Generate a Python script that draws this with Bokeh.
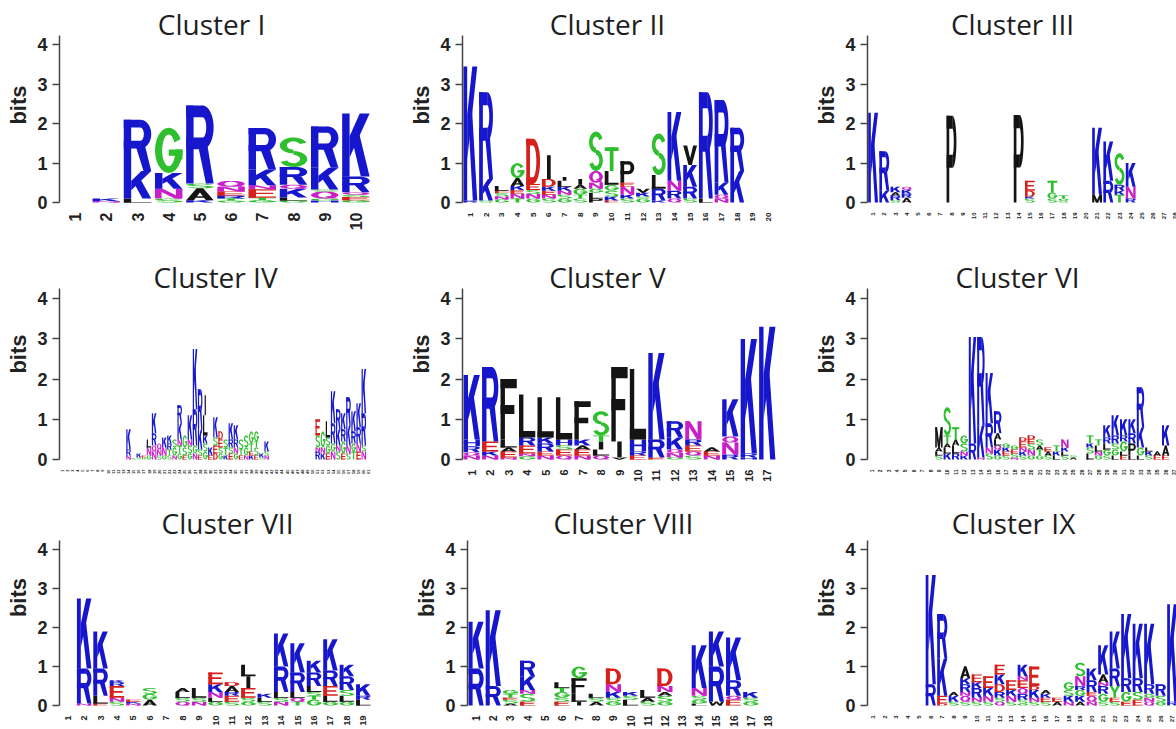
import math
from bokeh.plotting import figure
from bokeh.layouts import column, row
from bokeh.models import FixedTicker, Range1d, ColumnDataSource
from bokeh.core.properties import value
from bokeh.embed import file_html
from bokeh.resources import INLINE

# ---------------- data (stacks listed bottom -> top, letter + height in bits) ----------------
TITLES = ["Cluster I", "Cluster II", "Cluster III", "Cluster IV", "Cluster V",
          "Cluster VI", "Cluster VII", "Cluster VIII", "Cluster IX"]
Y_TICKS = [0, 1, 2, 3, 4]

CLUSTER_I = ["", "N0.03 K0.07", "L0.1 K0.7 R1.3", "S0.1 N0.25 K0.4 G1.15",
             "K0.06 A0.3 S0.12 R1.98", "G0.05 T0.05 R0.08 E0.1 N0.12 Q0.15",
             "G0.06 T0.06 E0.22 N0.1 K0.4 R1.05", "G0.05 L0.08 K0.22 Q0.1 R0.45 S0.75",
             "H0.05 G0.05 Q0.18 S0.05 K0.55 R1.05", "G0.06 E0.08 S0.06 Q0.06 R0.4 K1.6"]

CLUSTER_II = ["R0.05 K3.4", "S0.05 K0.55 R2.2", "G0.08 N0.08 S0.08 E0.06 L0.12",
              "T0.1 N0.12 E0.1 K0.1 A0.2 G0.38", "G0.1 N0.12 S0.1 E0.15 D1.15",
              "S0.1 N0.1 E0.1 K0.1 D0.2 I0.6", "G0.1 S0.1 N0.1 K0.1 L0.15 I0.1",
              "S0.1 T0.1 G0.15 A0.1 I0.15", "P0.1 L0.15 G0.1 N0.15 Q0.3 S1.0",
              "E0.05 K0.1 S0.15 G0.15 L0.35 T0.6", "S0.1 K0.1 N0.2 E0.1 P0.55",
              "G0.1 S0.05 K0.1 V0.1", "K0.05 R0.3 L0.35 S1.05", "Q0.1 R0.2 N0.25 K1.75",
              "S0.1 R0.3 K0.55 V0.5", "L0.1 R2.7", "N0.1 Q0.1 K0.3 R2.1", "K0.8 R1.1", "", ""]

CLUSTER_III = ["K2.28", "K0.3 R1.0", "S0.06 R0.12 A0.08 K0.14", "A0.12 R0.1 K0.1 Q0.08",
               "", "", "", "P2.2", "", "", "", "", "", "P2.22", "S0.1 K0.05 D0.15 E0.25",
               "", "S0.1 G0.15 T0.3", "S0.05 G0.05 T0.08", "", "", "M0.2 K1.7",
               "R0.55 K1.0", "T0.2 K0.1 R0.15 S0.8", "R0.1 N0.3 K0.6", "", "", "", "", ""]

CLUSTER_IV = [""] * 13 + [
    "N0.1 R0.15 K0.5", "S0.03", "S0.05 K0.1", "G0.05 E0.05", "G0.1 N0.2 L0.2",
    "N0.2 Q0.15 R0.3 K0.5", "S0.1 N0.15 Q0.15", "G0.1 N0.2 K0.25", "S0.1 T0.15 R0.15 K0.2",
    "N0.1 G0.2 S0.2", "G0.15 T0.2 N0.15 K0.4 R0.45", "E0.1 S0.2 G0.3", "G0.15 S0.2 N0.15 K0.6",
    "N0.15 G0.2 R0.9 K1.5", "E0.1 S0.15 K0.5 R1.0", "G0.2 S0.2 K0.2 L0.5 I0.5", "E0.1 K0.2",
    "D0.15 E0.2 S0.2 K0.5", "G0.15 S0.15 E0.2 D0.2", "K0.1 T0.2 S0.2", "E0.15 S0.15 R0.2 K0.4",
    "G0.15 N0.15 R0.2 K0.35", "E0.1 T0.15 S0.25", "N0.1 G0.2 S0.3", "K0.1 E0.1 T0.2 G0.3",
    "E0.1 S0.2 T0.15 G0.25", "S0.05 K0.1", "N0.1 S0.1 K0.25"] + [""] * 9 + [
    "R0.2 N0.1 S0.3 E0.4", "K0.15 N0.15 G0.4", "E0.15 G0.2 S0.2 L0.4", "N0.2 G0.2 R0.5 K0.8",
    "S0.2 N0.15 K0.4 R0.5", "E0.15 G0.3 R0.3 K0.4", "S0.15 N0.2 K0.5 R0.7",
    "T0.2 G0.2 R0.3 K0.5", "E0.2 N0.2 R0.4 K0.6", "N0.2 S0.15 R0.8 K1.1", ""]

CLUSTER_V = ["N0.1 Q0.08 R0.15 H0.17 K1.6", "N0.1 K0.1 E0.25 R1.85", "N0.05 E0.15 A0.1 L0.2 F1.5",
             "G0.08 N0.07 E0.2 R0.2 L1.07", "N0.1 E0.1 R0.2 K0.15 L1.0", "Q0.1 E0.15 S0.1 H0.15 L1.05",
             "N0.1 E0.15 A0.1 K0.15 F0.95", "Q0.1 L0.15 I0.2 T0.15 S0.6", "V0.05 I0.4 F1.85",
             "E0.1 R0.1 H0.3 L1.75", "E0.05 R0.45 K2.15", "G0.05 N0.12 Q0.08 K0.3 R0.4",
             "S0.1 Q0.1 E0.15 R0.15 N0.45", "N0.1 E0.1 A0.1", "R0.12 N0.3 Q0.15 K0.93",
             "H0.05 R0.1 K2.85", "K3.3"]

CLUSTER_VI = [""] * 8 + [
    "S0.1 L0.1 A0.1 M0.5", "K0.15 L0.15 A0.1 T0.2 S0.7", "R0.15 L0.2 A0.15 T0.3",
    "K0.1 N0.1 S0.2 G0.2", "R0.4 K2.65", "N0.05 K0.8 R2.2", "S0.15 N0.15 R0.6 K1.25",
    "G0.1 K0.15 Q0.1 L0.15 A0.15 R0.55", "S0.1 E0.1 K0.1 G0.1", "N0.05 S0.1 E0.1 G0.1",
    "S0.1 K0.1 N0.1 E0.15 D0.1", "G0.1 N0.15 S0.15 E0.1 D0.1", "G0.1 T0.15 A0.1 S0.15",
    "S0.1 A0.1 E0.1", "L0.1 K0.1 T0.15", "S0.1 L0.1 K0.1 N0.2", "A0.05 S0.05", "",
    "L0.15 S0.15 K0.1 T0.2", "G0.1 N0.1 L0.15 T0.15", "S0.1 G0.15 L0.15 R0.15 K0.3",
    "L0.1 G0.15 S0.15 R0.2 K0.5", "E0.1 L0.1 G0.25 R0.15 K0.4", "L0.1 P0.3 R0.25 K0.35",
    "L0.1 G0.2 K0.5 R1.0", "S0.1 K0.1 L0.1", "E0.1 A0.1", "E0.1 A0.25 K0.5", ""]

CLUSTER_VII = ["", "N0.05 R0.9 K1.8", "E0.05 L0.2 R0.7 K0.95", "S0.1 N0.1 E0.3 R0.1 K0.05",
               "N0.05 K0.05 E0.05", "A0.15 G0.15 S0.15", "", "Q0.1 S0.1 L0.15 A0.1",
               "N0.1 S0.1 L0.25", "G0.1 L0.1 N0.15 K0.2 E0.3", "S0.1 E0.15 R0.1 A0.15 D0.1",
               "G0.1 S0.1 E0.25 I0.3 L0.3", "S0.1 L0.1 K0.1", "N0.1 S0.1 L0.15 R0.65 K0.85",
               "T0.1 Q0.1 L0.15 R0.5 K0.75", "G0.15 T0.1 S0.1 L0.15 R0.35 K0.3",
               "G0.1 L0.15 E0.25 R0.4 K0.8", "G0.1 L0.15 S0.15 R0.35 K0.3", "L0.15 R0.1 K0.3"]

CLUSTER_VIII = ["R0.95 K1.2", "R0.5 K1.95", "A0.05 S0.1 E0.05 T0.1 G0.1", "E0.1 S0.2 N0.1 K0.35 R0.4",
                "", "E0.1 S0.1 G0.15 T0.1 L0.15", "I0.1 L0.2 F0.4 G0.3", "A0.1 S0.1 L0.1",
                "G0.1 S0.1 K0.15 N0.2 D0.4", "L0.15 S0.1 K0.1", "S0.1 A0.1 L0.2",
                "G0.1 S0.15 A0.1 N0.15 D0.45", "", "L0.05 G0.1 S0.1 N0.2 K1.1", "W0.1 R0.9 K0.9",
                "E0.15 Q0.1 R0.4 K1.1", "G0.1 S0.1 K0.15", ""]

CLUSTER_IX = ["", "", "", "", "", "R0.55 K2.8", "D0.05 E0.2 K0.95 R1.15", "S0.1 K0.15 A0.1",
              "S0.1 Q0.15 N0.1 R0.2 K0.15 A0.3", "S0.1 N0.1 R0.25 K0.15 E0.2", "S0.1 N0.15 K0.2 E0.3",
              "Q0.1 S0.1 R0.15 D0.2 K0.25 E0.25", "S0.1 N0.15 K0.15 E0.25",
              "G0.05 S0.1 R0.15 Q0.15 E0.2 N0.1 K0.3", "S0.1 N0.1 K0.2 D0.1 E0.5",
              "S0.1 E0.1 K0.1 A0.1", "A0.1 E0.1", "N0.1 K0.15 S0.15 G0.2",
              "A0.1 K0.15 G0.15 R0.1 N0.25 S0.35", "N0.1 Q0.15 E0.1 R0.3 K0.3",
              "S0.1 G0.2 R0.2 N0.1 A0.2 K0.75", "S0.1 E0.1 Y0.3 R0.45 K0.95",
              "E0.1 G0.25 R0.35 K1.65", "E0.15 S0.2 R0.35 K1.4", "Q0.1 N0.1 G0.1 R0.25 K1.55",
              "G0.1 S0.15 R0.3", "R0.1 K2.5", "", ""]

CLUSTERS = [CLUSTER_I, CLUSTER_II, CLUSTER_III, CLUSTER_IV, CLUSTER_V,
            CLUSTER_VI, CLUSTER_VII, CLUSTER_VIII, CLUSTER_IX]

# ---------------- colours (WebLogo chemistry scheme) ----------------
BLUE, GREEN, RED, PURPLE, BLACK = "#1616cc", "#2ebf2e", "#d6201c", "#c81fc8", "#141414"
COLOR = {}
for ch in "KRH":
    COLOR[ch] = BLUE
for ch in "GSTYC":
    COLOR[ch] = GREEN
for ch in "DE":
    COLOR[ch] = RED
for ch in "NQ":
    COLOR[ch] = PURPLE
for ch in "AVLIPWFM":
    COLOR[ch] = BLACK

# ---------------- letter outlines in a unit box ----------------
SW, HB = 0.27, 0.15


def rect(x0, y0, x1, y1):
    return [(x0, y0), (x1, y0), (x1, y1), (x0, y1)]


def arc(cx, cy, rx, ry, tx, ty, a0, a1, n=22):
    pts = []
    for i in range(n + 1):
        t = math.radians(a0 + (a1 - a0) * i / n)
        pts.append((cx + rx * math.cos(t), cy + ry * math.sin(t)))
    for i in range(n, -1, -1):
        t = math.radians(a0 + (a1 - a0) * i / n)
        pts.append((cx + (rx - tx) * math.cos(t), cy + (ry - ty) * math.sin(t)))
    return pts


def bowl(y0):
    cy, ry = (y0 + 1) / 2, (1 - y0) / 2
    return [rect(0, 1 - HB, 0.62, 1), rect(0, y0, 0.62, y0 + HB),
            arc(0.6, cy, 0.4, ry, 0.27, HB, -90, 90)]


SHAPES = {
    "A": [[(0, 0), (0.28, 0), (0.62, 1), (0.38, 1)], [(0.38, 1), (0.62, 1), (1, 0), (0.72, 0)],
          rect(0.2, 0.2, 0.8, 0.34)],
    "C": [arc(0.5, 0.5, 0.5, 0.5, 0.26, HB, 40, 320)],
    "D": [rect(0, 0, SW, 1), rect(0, 0, 0.5, HB), rect(0, 1 - HB, 0.5, 1),
          arc(0.48, 0.5, 0.52, 0.5, 0.27, HB, -90, 90)],
    "E": [rect(0, 0, SW, 1), rect(0, 1 - HB, 1, 1), rect(0, 0.43, 0.9, 0.43 + HB), rect(0, 0, 1, HB)],
    "F": [rect(0, 0, SW, 1), rect(0, 1 - HB, 1, 1), rect(0, 0.42, 0.85, 0.42 + HB)],
    "G": [arc(0.5, 0.5, 0.5, 0.5, 0.26, HB, 30, 360), rect(0.5, 0.38, 1.0, 0.52),
          rect(0.74, 0.3, 1.0, 0.52)],
    "H": [rect(0, 0, SW, 1), rect(1 - SW, 0, 1, 1), rect(0, 0.43, 1, 0.43 + HB)],
    "I": [rect(0.5 - SW / 2, 0, 0.5 + SW / 2, 1)],
    "K": [rect(0, 0, SW, 1), [(SW, 0.30), (1, 1), (0.64, 1), (SW, 0.64)],
          [(0.38, 0.55), (0.68, 0), (1, 0), (0.6, 0.72)]],
    "L": [rect(0, 0, SW, 1), rect(0, 0, 1, HB)],
    "M": [rect(0, 0, 0.22, 1), rect(0.78, 0, 1, 1), [(0, 1), (0.26, 1), (0.62, 0), (0.38, 0)],
          [(0.74, 1), (1, 1), (0.62, 0), (0.38, 0)]],
    "N": [rect(0, 0, 0.24, 1), rect(0.76, 0, 1, 1), [(0, 1), (0.28, 1), (1, 0), (0.72, 0)]],
    "P": [rect(0, 0, SW, 1)] + bowl(0.40),
    "Q": [arc(0.5, 0.5, 0.5, 0.5, 0.26, HB, 0, 360), [(0.5, 0.3), (0.72, 0.36), (1, 0), (0.8, 0)]],
    "R": [rect(0, 0, SW, 1)] + bowl(0.44) + [[(0.45, 0.46), (0.72, 0), (1, 0), (0.78, 0.48)]],
    "S": [arc(0.5, 0.73, 0.5, 0.27, 0.26, 0.13, 20, 270),
          arc(0.5, 0.27, 0.5, 0.27, 0.26, 0.13, -160, 90)],
    "T": [rect(0, 1 - HB, 1, 1), rect(0.5 - SW / 2, 0, 0.5 + SW / 2, 1)],
    "V": [[(0, 1), (0.28, 1), (0.62, 0), (0.38, 0)], [(0.38, 0), (0.62, 0), (1, 1), (0.72, 1)]],
    "W": [[(0, 1), (0.18, 1), (0.34, 0), (0.16, 0)], [(0.41, 1), (0.59, 1), (0.34, 0), (0.16, 0)],
          [(0.41, 1), (0.59, 1), (0.84, 0), (0.66, 0)], [(0.82, 1), (1, 1), (0.84, 0), (0.66, 0)]],
    "Y": [[(0, 1), (0.28, 1), (0.63, 0.45), (0.37, 0.45)], [(0.72, 1), (1, 1), (0.63, 0.45), (0.37, 0.45)],
          rect(0.37, 0, 0.63, 0.5)],
}


def parse(col):
    return [(tok[0], float(tok[1:])) for tok in col.split()]


def logo_source(columns, w=0.88):
    xs, ys, cs = [], [], []
    for i, col in enumerate(columns, start=1):
        base = 0.0
        for ch, h in parse(col):
            for poly in SHAPES[ch]:
                xs.append([i - w / 2 + u * w for u, v in poly])
                ys.append([base + v * h for u, v in poly])
                cs.append(COLOR[ch])
            base += h
    return ColumnDataSource(dict(xs=xs, ys=ys, color=cs))


# ---------------- layout (pixel geometry of each panel) ----------------
W, H = 392, 243
ROWS = [  # y start, y end, border top, border bottom, title y
    (-0.05, 5.0, 5, 39, 4.54),
    (-0.05, 5.3, 3, 25, 4.55),
    (-0.05, 5.6, 1, 17, 4.70),
]
# border_left, border_right, column spacing (px) or None (fit all columns), title centre (abs px), col x0, label size
PANELS = [
    (59, 21, None, 211, 0, "16px"),
    (70, 8, None, 607, 392, "8px"),
    (83, 0, 11.2, 1012, 784, "6px"),
    (59, 21, None, 215, 0, "4px"),
    (70, 8, None, 607, 392, "11px"),
    (83, 0, 8.4, 1017, 784, "5px"),
    (59, 21, None, 227, 0, "9px"),
    (75, 8, None, 623, 392, "10px"),
    (83, 0, 11.5, 1013, 784, "6px"),
]

figs = []
for k in range(9):
    cols = CLUSTERS[k]
    bl, br, sp, title_px, x0, lab_size = PANELS[k]
    ys0, ys1, bt, bb, title_y = ROWS[k // 3]
    frame_w = W - bl - br
    n = len(cols)
    x_end = n + 0.5 if sp is None else 0.5 + frame_w / sp
    s = frame_w / (x_end - 0.5)
    p = figure(width=W, height=H, x_range=Range1d(0.5, x_end), y_range=Range1d(ys0, ys1),
               output_backend="svg", toolbar_location=None,
               min_border_left=bl, min_border_right=br, min_border_top=bt, min_border_bottom=bb)
    p.outline_line_color = None
    p.grid.visible = False
    p.background_fill_color = "white"
    p.border_fill_color = "white"

    src = logo_source(cols)
    p.patches(xs="xs", ys="ys", fill_color="color", line_color=None, source=src)

    # title
    tx = 0.5 + (title_px - (x0 + bl)) / s
    p.text(x=[tx], y=[title_y], text=[TITLES[k]], text_font=value("Open Sans"),
           text_font_size=value("28px"), text_color="#1e1e1e",
           text_align="center", text_baseline="middle")

    # y axis
    ya = p.yaxis[0]
    ya.ticker = FixedTicker(ticks=Y_TICKS)
    ya.bounds = (0, 4.25)
    ya.axis_label = "bits"
    ya.axis_label_text_font = "Liberation Sans"
    ya.axis_label_text_font_style = "bold"
    ya.axis_label_text_font_size = "22px"
    ya.axis_label_text_color = "#222222"
    ya.axis_label_standoff = 3
    ya.major_label_text_font = "Liberation Sans"
    ya.major_label_text_font_style = "bold"
    ya.major_label_text_font_size = "18px"
    ya.major_label_text_color = "#222222"
    ya.major_label_standoff = 5
    ya.major_tick_in = 0
    ya.major_tick_out = 7
    ya.minor_tick_line_color = None
    ya.axis_line_color = "#444444"
    ya.major_tick_line_color = "#444444"
    ya.axis_line_width = 1.5
    ya.major_tick_line_width = 1.5

    # x axis: rotated position numbers
    xa = p.xaxis[0]
    xa.ticker = FixedTicker(ticks=list(range(1, n + 1)))
    xa.major_label_orientation = math.pi / 2
    xa.major_label_text_font = "Liberation Sans"
    xa.major_label_text_font_style = "bold"
    xa.major_label_text_font_size = lab_size
    xa.major_label_text_color = "#222222"
    xa.major_label_standoff = 2
    xa.axis_line_color = None
    xa.major_tick_line_color = None
    xa.minor_tick_line_color = None
    figs.append(p)

layout = column(row(*figs[0:3], spacing=0), row(*figs[3:6], spacing=0),
                row(*figs[6:9], spacing=0), spacing=0)

open("out.html", "w").write(file_html(layout, INLINE))
